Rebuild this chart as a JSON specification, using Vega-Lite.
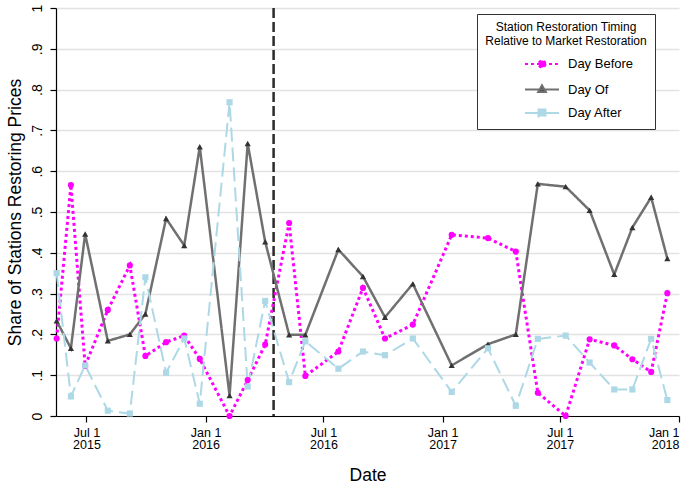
{
  "$schema": "https://vega.github.io/schema/vega-lite/v6.json",
  "width": 623,
  "height": 408,
  "autosize": {"type": "none"},
  "padding": {"left": 56, "top": 8, "right": 17, "bottom": 73},
  "background": "white",
  "config": {"view": {"stroke": null}, "font": "Liberation Sans"},
  "data": {"values": [
    {"date":"2015-05-16","series":"Day Before","share":0.19},
    {"date":"2015-06-07","series":"Day Before","share":0.566},
    {"date":"2015-06-29","series":"Day Before","share":0.123},
    {"date":"2015-08-03","series":"Day Before","share":0.26},
    {"date":"2015-09-06","series":"Day Before","share":0.369},
    {"date":"2015-09-30","series":"Day Before","share":0.147},
    {"date":"2015-11-01","series":"Day Before","share":0.181},
    {"date":"2015-11-29","series":"Day Before","share":0.197},
    {"date":"2015-12-23","series":"Day Before","share":0.14},
    {"date":"2016-02-07","series":"Day Before","share":0.0},
    {"date":"2016-03-06","series":"Day Before","share":0.088},
    {"date":"2016-04-02","series":"Day Before","share":0.175},
    {"date":"2016-05-09","series":"Day Before","share":0.473},
    {"date":"2016-06-03","series":"Day Before","share":0.098},
    {"date":"2016-07-24","series":"Day Before","share":0.158},
    {"date":"2016-08-31","series":"Day Before","share":0.314},
    {"date":"2016-10-04","series":"Day Before","share":0.19},
    {"date":"2016-11-16","series":"Day Before","share":0.224},
    {"date":"2017-01-15","series":"Day Before","share":0.444},
    {"date":"2017-03-12","series":"Day Before","share":0.436},
    {"date":"2017-04-24","series":"Day Before","share":0.403},
    {"date":"2017-05-28","series":"Day Before","share":0.057},
    {"date":"2017-07-10","series":"Day Before","share":0.0},
    {"date":"2017-08-16","series":"Day Before","share":0.188},
    {"date":"2017-09-23","series":"Day Before","share":0.173},
    {"date":"2017-10-21","series":"Day Before","share":0.139},
    {"date":"2017-11-19","series":"Day Before","share":0.108},
    {"date":"2017-12-14","series":"Day Before","share":0.301},
    {"date":"2015-05-16","series":"Day Of","share":0.233},
    {"date":"2015-06-07","series":"Day Of","share":0.166},
    {"date":"2015-06-29","series":"Day Of","share":0.446},
    {"date":"2015-08-03","series":"Day Of","share":0.184},
    {"date":"2015-09-06","series":"Day Of","share":0.2},
    {"date":"2015-09-30","series":"Day Of","share":0.25},
    {"date":"2015-11-01","series":"Day Of","share":0.484},
    {"date":"2015-11-29","series":"Day Of","share":0.418},
    {"date":"2015-12-23","series":"Day Of","share":0.66},
    {"date":"2016-02-07","series":"Day Of","share":0.05},
    {"date":"2016-03-06","series":"Day Of","share":0.668},
    {"date":"2016-04-02","series":"Day Of","share":0.427},
    {"date":"2016-05-09","series":"Day Of","share":0.199},
    {"date":"2016-06-03","series":"Day Of","share":0.199},
    {"date":"2016-07-24","series":"Day Of","share":0.408},
    {"date":"2016-08-31","series":"Day Of","share":0.342},
    {"date":"2016-10-04","series":"Day Of","share":0.242},
    {"date":"2016-11-16","series":"Day Of","share":0.324},
    {"date":"2017-01-15","series":"Day Of","share":0.124},
    {"date":"2017-03-12","series":"Day Of","share":0.176},
    {"date":"2017-04-24","series":"Day Of","share":0.2},
    {"date":"2017-05-28","series":"Day Of","share":0.569},
    {"date":"2017-07-10","series":"Day Of","share":0.562},
    {"date":"2017-08-16","series":"Day Of","share":0.504},
    {"date":"2017-09-23","series":"Day Of","share":0.347},
    {"date":"2017-10-21","series":"Day Of","share":0.462},
    {"date":"2017-11-19","series":"Day Of","share":0.536},
    {"date":"2017-12-14","series":"Day Of","share":0.386},
    {"date":"2015-05-16","series":"Day After","share":0.35},
    {"date":"2015-06-07","series":"Day After","share":0.048},
    {"date":"2015-06-29","series":"Day After","share":0.124},
    {"date":"2015-08-03","series":"Day After","share":0.013},
    {"date":"2015-09-06","series":"Day After","share":0.006},
    {"date":"2015-09-30","series":"Day After","share":0.34},
    {"date":"2015-11-01","series":"Day After","share":0.106},
    {"date":"2015-11-29","series":"Day After","share":0.19},
    {"date":"2015-12-23","series":"Day After","share":0.03},
    {"date":"2016-02-07","series":"Day After","share":0.769},
    {"date":"2016-03-06","series":"Day After","share":0.072},
    {"date":"2016-04-02","series":"Day After","share":0.282},
    {"date":"2016-05-09","series":"Day After","share":0.083},
    {"date":"2016-06-03","series":"Day After","share":0.183},
    {"date":"2016-07-24","series":"Day After","share":0.116},
    {"date":"2016-08-31","series":"Day After","share":0.158},
    {"date":"2016-10-04","series":"Day After","share":0.149},
    {"date":"2016-11-16","series":"Day After","share":0.19},
    {"date":"2017-01-15","series":"Day After","share":0.059},
    {"date":"2017-03-12","series":"Day After","share":0.166},
    {"date":"2017-04-24","series":"Day After","share":0.025},
    {"date":"2017-05-28","series":"Day After","share":0.189},
    {"date":"2017-07-10","series":"Day After","share":0.197},
    {"date":"2017-08-16","series":"Day After","share":0.131},
    {"date":"2017-09-23","series":"Day After","share":0.065},
    {"date":"2017-10-21","series":"Day After","share":0.065},
    {"date":"2017-11-19","series":"Day After","share":0.189},
    {"date":"2017-12-14","series":"Day After","share":0.039}
  ]},
  "encoding": {
    "x": {
      "field": "date", "type": "temporal",
      "scale": {"type": "utc", "domain": [{"year":2015,"month":5,"date":15,"utc":true},{"year":2018,"month":1,"date":1,"utc":true}], "nice": false},
      "axis": {
        "title": "Date",
        "values": [{"year":2015,"month":7,"date":1,"utc":true},{"year":2016,"month":1,"date":1,"utc":true},{"year":2016,"month":7,"date":1,"utc":true},{"year":2017,"month":1,"date":1,"utc":true},{"year":2017,"month":7,"date":1,"utc":true},{"year":2018,"month":1,"date":1,"utc":true}],
        "labelExpr": "[utcFormat(datum.value, '%b %-d'), utcFormat(datum.value, '%Y')]",
        "grid": false,
        "domainColor": "black", "domainWidth": 1.2,
        "tickColor": "black", "tickSize": 6, "tickWidth": 1.2,
        "labelFont": "Liberation Sans", "labelFontSize": 12.5, "labelColor": "black", "labelLineHeight": 12.5, "labelPadding": 4,
        "labelOverlap": false,
        "titleFont": "Liberation Sans", "titleFontSize": 17.5, "titleFontWeight": "normal", "titleColor": "black", "titlePadding": 15
      }
    },
    "y": {
      "field": "share", "type": "quantitative",
      "scale": {"domain": [0, 1], "nice": false, "zero": true},
      "axis": {
        "title": "Share of Stations Restoring Prices",
        "values": [0,0.1,0.2,0.3,0.4,0.5,0.6,0.7,0.8,0.9,1],
        "labelExpr": "datum.value == 0 ? '0' : datum.value == 1 ? '1' : replace(format(datum.value, '.1f'), '0.', '.')",
        "grid": true, "gridColor": "#E2E2E2", "gridWidth": 1.5,
        "domainColor": "black", "domainWidth": 1.2,
        "tickColor": "black", "tickSize": 6, "tickWidth": 1.2,
        "labelAngle": -90, "labelAlign": "center", "labelBaseline": "bottom",
        "labelFont": "Liberation Sans", "labelFontSize": 14, "labelColor": "black", "labelPadding": 6,
        "titleFont": "Liberation Sans", "titleFontSize": 17.5, "titleFontWeight": "normal", "titleColor": "black", "titlePadding": 6
      }
    }
  },
  "layer": [
    {
      "data": {"values": [{"date": "2016-04-15"}]},
      "mark": {"type": "rule", "color": "#2a2a2a", "strokeWidth": 2.5, "strokeDash": [10, 4]},
      "encoding": {"x": {"field": "date", "type": "temporal"}, "y": null}
    },
    {
      "mark": {"type": "line", "strokeCap": "butt"},
      "encoding": {
        "color": {"field": "series", "type": "nominal", "scale": {"domain": ["Day Before","Day Of","Day After"], "range": ["#FF00FF","#707070","#ADD8E6"]}, "legend": null},
        "strokeDash": {"field": "series", "type": "nominal", "scale": {"domain": ["Day Before","Day Of","Day After"], "range": [[3,3],[1,0],[14,6]]}, "legend": null},
        "strokeWidth": {"field": "series", "type": "nominal", "scale": {"domain": ["Day Before","Day Of","Day After"], "range": [3,2,1.5]}, "legend": null}
      }
    },
    {
      "mark": {"type": "point", "filled": true, "opacity": 1, "size": 38},
      "encoding": {
        "color": {"field": "series", "type": "nominal", "scale": {"domain": ["Day Before","Day Of","Day After"], "range": ["#FF00FF","#333333","#ADD8E6"]}, "legend": null},
        "shape": {"field": "series", "type": "nominal", "scale": {"domain": ["Day Before","Day Of","Day After"], "range": ["circle","triangle-up","square"]}, "legend": null}
      }
    },
    {
      "transform": [{"filter": "datum.share < -1"}],
      "mark": {"type": "point", "filled": true, "opacity": 1, "size": 196, "strokeWidth": 2},
      "encoding": {
        "shape": {"field": "series", "type": "nominal",
          "scale": {"domain": ["Day Before","Day Of","Day After"], "range": ["M-2.43,0H2.43M0.5,0A0.5,0.5,0,1,1,-0.5,0A0.5,0.5,0,1,1,0.5,0Z","M-2.43,0H2.43M0,-0.6L0.55,0.35L-0.55,0.35Z","M-2.43,0H2.43M-0.5,-0.5H0.5V0.5H-0.5Z"]},
          "legend": {
            "title": ["Station Restoration Timing", "Relative to Market Restoration"],
            "orient": "none", "legendX": 421, "legendY": 6,
            "strokeColor": "#333333", "fillColor": "white", "padding": 8,
            "titleAnchor": "middle", "titleFontSize": 12, "titleFontWeight": "normal", "titleColor": "black", "titleLineHeight": 14, "titlePadding": 8,
            "labelFontSize": 13, "labelColor": "black", "labelOffset": 18,
            "symbolOffset": 36, "symbolSize": 196, "symbolStrokeWidth": 2, "rowPadding": 8.5
          }
        },
        "fill": {"field": "series", "type": "nominal", "scale": {"domain": ["Day Before","Day Of","Day After"], "range": ["#FF00FF","#333333","#ADD8E6"]}},
        "stroke": {"field": "series", "type": "nominal", "scale": {"domain": ["Day Before","Day Of","Day After"], "range": ["#FF00FF","#707070","#ADD8E6"]}},
        "strokeDash": {"field": "series", "type": "nominal", "scale": {"domain": ["Day Before","Day Of","Day After"], "range": [[3,3],[1,0],[14,6]]}}
      }
    }
  ],
  "resolve": {"scale": {"color": "independent", "shape": "independent", "strokeDash": "independent", "fill": "independent", "stroke": "independent", "strokeWidth": "independent"}}
}
